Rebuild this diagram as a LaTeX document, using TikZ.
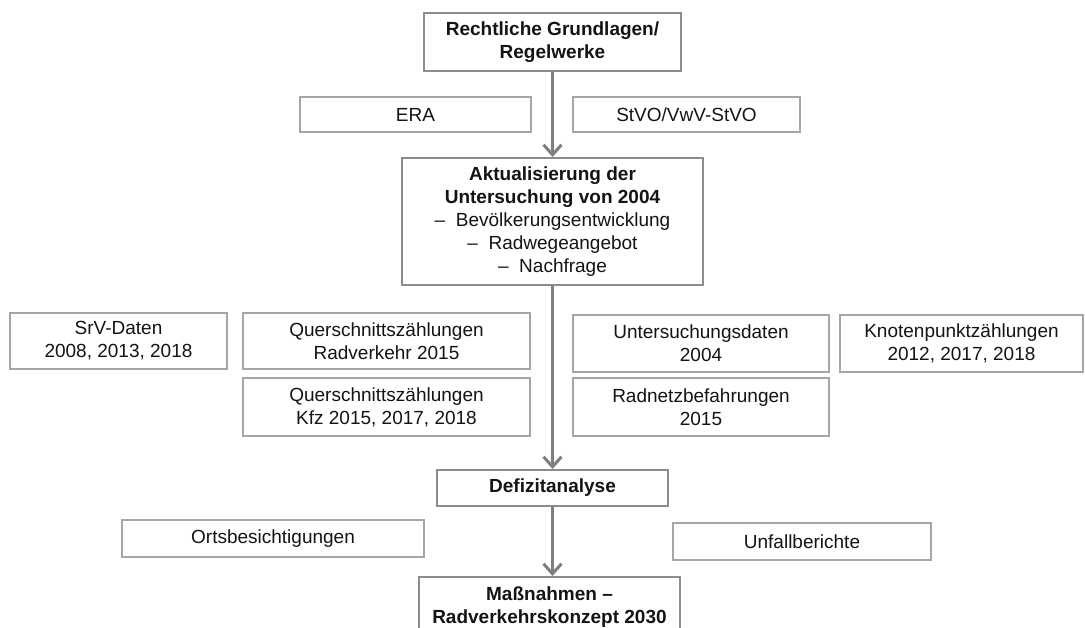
\documentclass[tikz,border=0pt]{standalone}
\usepackage{fontspec}
\setmainfont{Liberation Sans}
\usetikzlibrary{arrows.meta}
\definecolor{boxgray}{HTML}{8C8C8C}
\definecolor{lightgray}{HTML}{A6A6A6}
\definecolor{arrowgray}{HTML}{7F7F7F}
\definecolor{txt}{HTML}{141414}
\tikzset{
  base/.style={rectangle, inner sep=0pt, align=center, text=txt,
    font=\fontsize{19}{23}\selectfont},
  mainbox/.style={base, draw=boxgray, line width=2pt,
    font=\fontsize{19}{23}\selectfont\bfseries},
  infobox/.style={base, draw=lightgray, line width=1.3pt},
  flow/.style={draw=arrowgray, line width=3pt,
    -{Straight Barb[length=10pt,width=18pt,line width=3pt]}}
}
\begin{document}
\begin{tikzpicture}[x=1pt,y=-1pt]
\useasboundingbox (0,0) rectangle (1085,628);
\clip (0,0) rectangle (1085,628);
\fill[white] (0,0) rectangle (1085,628);
% main column
\node[mainbox, minimum width=257pt, minimum height=58pt] (top) at (552.5,42)
  {Rechtliche Grundlagen/\\Regelwerke};
\node[mainbox, minimum width=301pt, minimum height=127pt] (akt) at (552.5,221.5)
  {Aktualisierung der\\Untersuchung von 2004\\
   \mdseries \textendash\ \ Bevölkerungsentwicklung\\
   \mdseries \textendash\ \ Radwegeangebot\\
   \mdseries \textendash\ \ Nachfrage};
\node[mainbox, minimum width=231pt, minimum height=36pt] (def) at (552.5,488)
  {Defizitanalyse};
\node[mainbox, minimum width=261pt, minimum height=61pt] (mas) at (549.5,607.5)
  {Maßnahmen \textendash\\Radverkehrskonzept 2030};
% info boxes
\node[infobox, minimum width=231pt, minimum height=35pt] (era) at (415.5,114.5) {ERA};
\node[infobox, minimum width=227pt, minimum height=35pt] (stvo) at (686.5,114.5) {StVO/VwV-StVO};
\node[infobox, minimum width=217pt, minimum height=56pt] (srv) at (118.5,341)
  {SrV-Daten\\2008, 2013, 2018};
\node[infobox, minimum width=287pt, minimum height=56pt] (qr) at (386.5,341)
  {Querschnittszählungen\\Radverkehr 2015};
\node[infobox, minimum width=287pt, minimum height=58pt] (qk) at (386.5,407)
  {Querschnittszählungen\\Kfz 2015, 2017, 2018};
\node[infobox, minimum width=256pt, minimum height=57pt] (ud) at (701,343.5)
  {Untersuchungsdaten\\2004};
\node[infobox, minimum width=243pt, minimum height=57pt] (kn) at (961.5,343.5)
  {Knotenpunktzählungen\\2012, 2017, 2018};
\node[infobox, minimum width=256pt, minimum height=58pt] (rn) at (701,407)
  {Radnetzbefahrungen\\2015};
\node[infobox, minimum width=302pt, minimum height=37pt] (orts) at (273,538.5)
  {Ortsbesichtigungen};
\node[infobox, minimum width=258pt, minimum height=37pt] (unf) at (802,541.5)
  {Unfallberichte};
% connectors
\draw[flow] (top.south) -- (akt.north);
\draw[flow] (akt.south) -- (def.north);
\draw[flow] (def.south) -- (def.south |- mas.north);
\end{tikzpicture}
\end{document}
